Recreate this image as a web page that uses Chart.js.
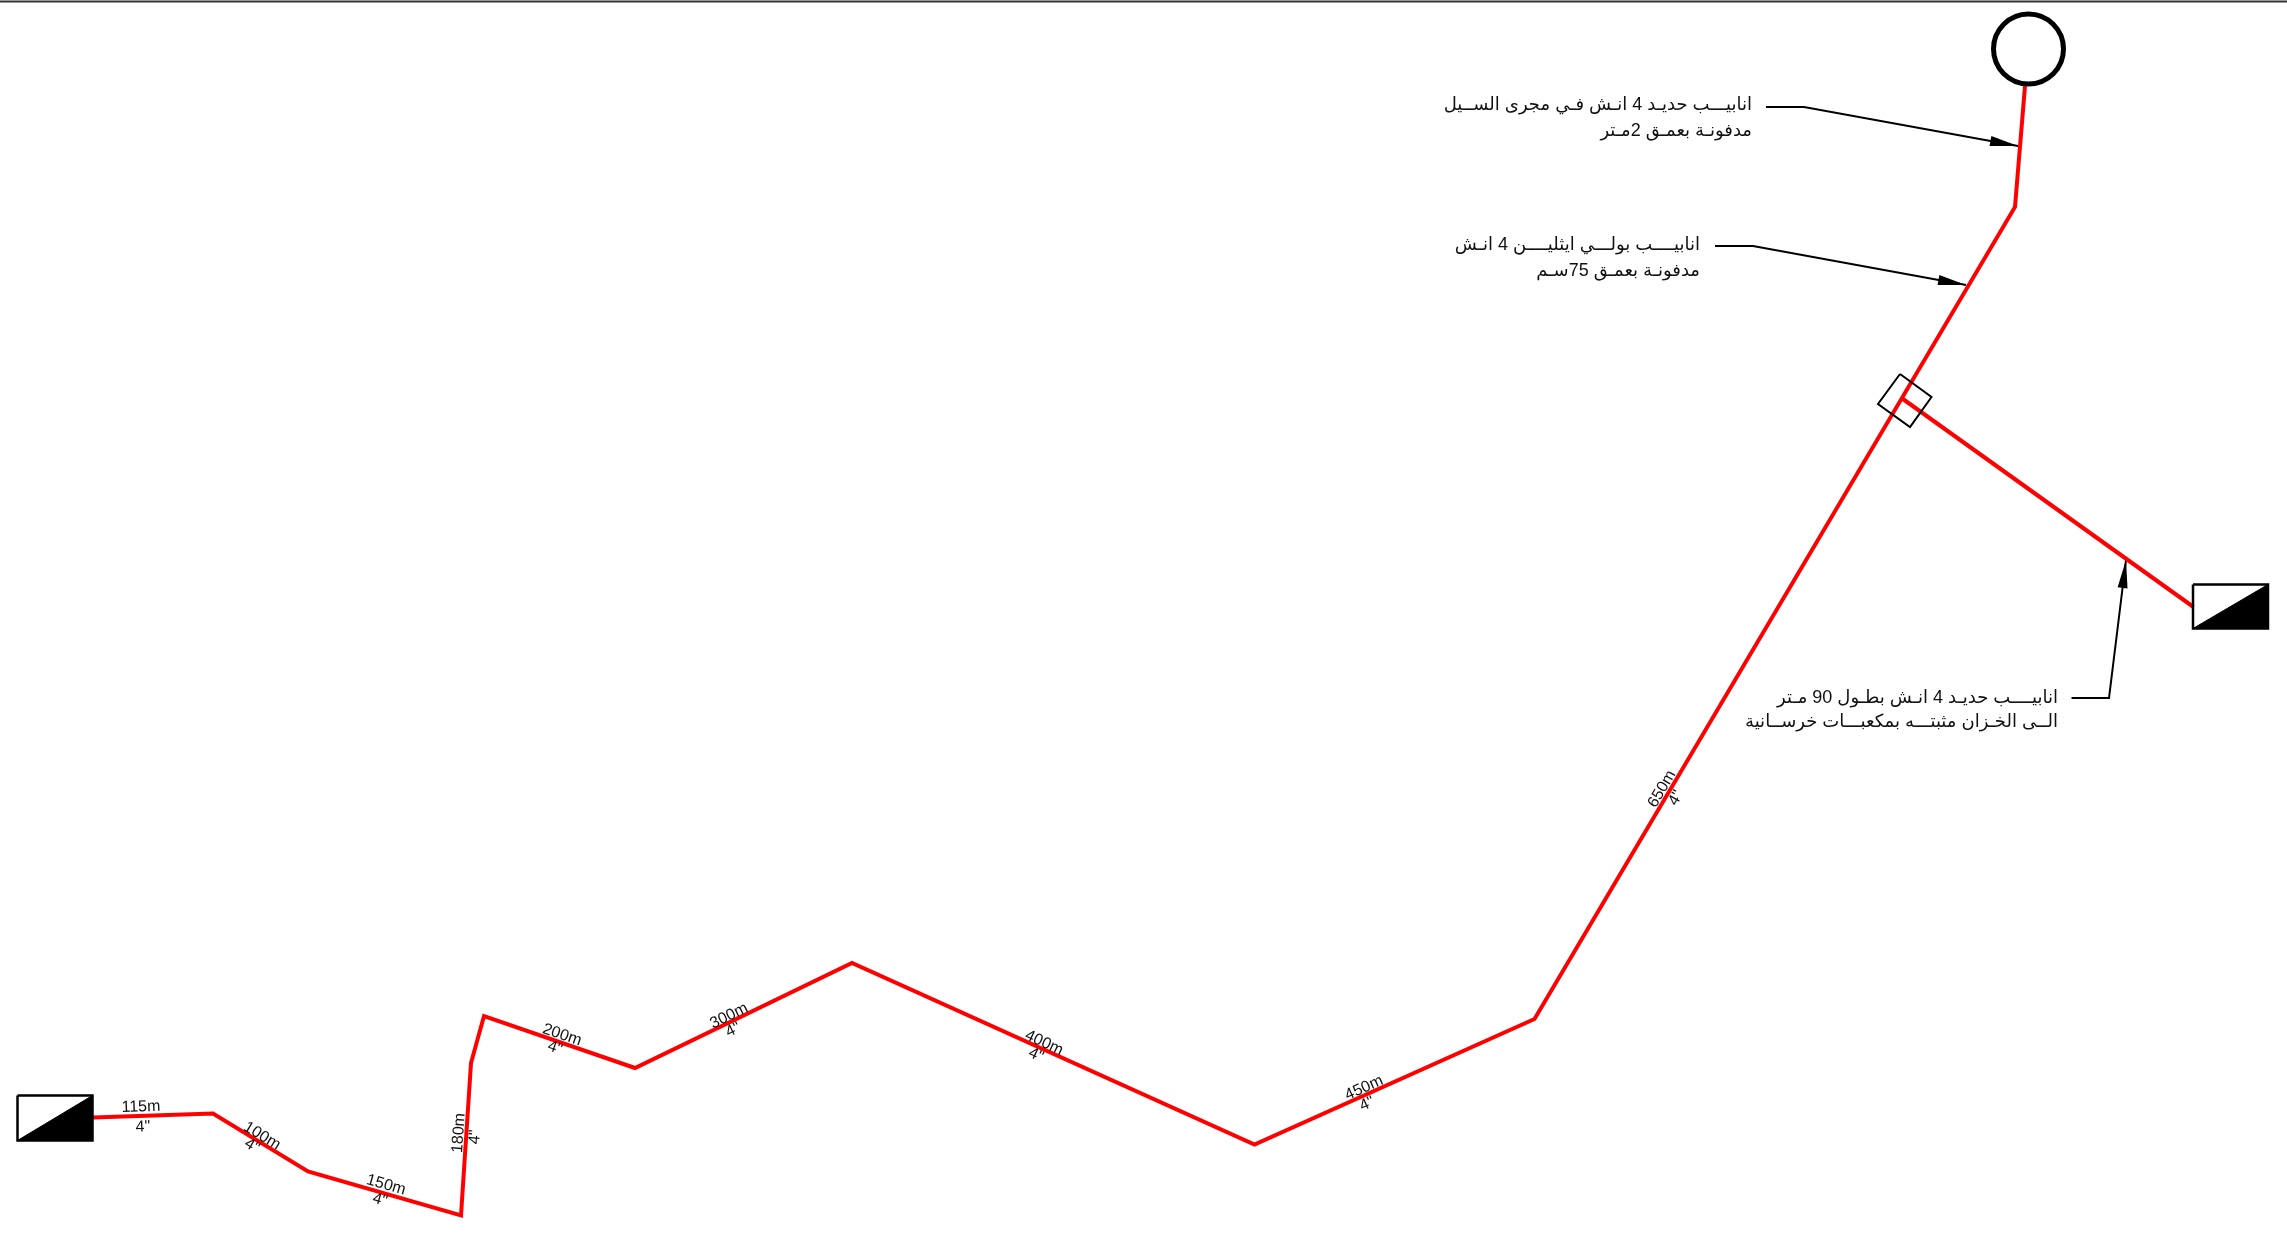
<!DOCTYPE html>
<html lang="ar">
<head>
    <meta charset="UTF-8">
    <title>Pipe route</title>
    <script src="https://cdnjs.cloudflare.com/ajax/libs/Chart.js/4.4.0/chart.umd.js"></script>
    <style>
        html, body { margin: 0; padding: 0; background: #ffffff; overflow: hidden; }
        canvas { display: block; }
    </style>
</head>
<body>
    <canvas id="canvas" width="2287" height="1236"></canvas>
    <script>
        // route of the main pipe, left tank up to the round well
        const pipeX = [93, 213, 308, 461, 471, 484, 635, 852, 1254.5, 1534.5, 2015, 2025]
        const pipeY = [1117.5, 1113.5, 1171.5, 1215.5, 1063, 1016, 1068, 963, 1144.5, 1019, 207, 86]
        const branchX = [1901.5, 2193.5]
        const branchY = [398, 607]

        const tankLeftX = [17.5, 92.5, 92.5, 17.5, 17.5]
        const tankLeftY = [1095.5, 1095.5, 1140.5, 1140.5, 1095.5]
        const tankLeftBlackX = [17.5, 92.5, 92.5, 17.5]
        const tankLeftBlackY = [1140.5, 1095.5, 1140.5, 1140.5]
        const tankRightX = [2193, 2268, 2268, 2193, 2193]
        const tankRightY = [584.5, 584.5, 628.5, 628.5, 584.5]
        const tankRightBlackX = [2193, 2268, 2268, 2193]
        const tankRightBlackY = [628.5, 584.5, 628.5, 628.5]

        const valveX = [1900, 1931.5, 1910, 1878, 1900]
        const valveY = [374, 397, 427, 404, 374]
        const wellX = [2028.5]
        const wellY = [49]
        const topRuleX = [0, 2287]
        const topRuleY = [1.5, 1.5]

        const leaderAX = [1766, 1804, 2018]
        const leaderAY = [107, 107, 146]
        const leaderBX = [1715, 1753, 1966]
        const leaderBY = [246, 246, 285]
        const leaderCX = [2071.5, 2109, 2126]
        const leaderCY = [698, 698, 560]

        // length labels along the pipe
        const lengthText = ['115m', '100m', '150m', '180m', '200m', '300m', '400m', '450m', '650m']
        const lengthX = [141, 262, 386, 459, 562, 729, 1044, 1364, 1662]
        const lengthY = [1107, 1136, 1185, 1133, 1035, 1016, 1043, 1088, 789]
        const labelAngle = [-2, 31, 16, -86, 19, -26, 25, -24, -60]
        const sizeText = '4"'
        const sizeX = [143, 252, 380, 475, 555, 733, 1036, 1367, 1676]
        const sizeY = [1127, 1146, 1200, 1137, 1048, 1030, 1055, 1104, 798]

        // notes beside the leaders
        const noteText = [
            'انابيـــب حديـد 4 انـش فـي مجرى الســيل',
            'مدفونـة بعمـق 2مـتر',
            'انابيــــب بولـــي ايثليــــن 4 انـش',
            'مدفونـة بعمـق 75سـم',
            'انابيــــب حديـد 4 انـش بطـول 90 مـتر',
            'الــى الخـزان مثبتـــه بمكعبـــات خرســانية'
        ]
        const noteX = [1752, 1752, 1700, 1700, 2058, 2058]
        const noteY = [105, 131, 245, 271, 698, 722]

        const zip = (xs, ys) => xs.map((x, i) => ({ x: x, y: ys[i] }))

        const line = (xs, ys, color, width) => ({
            data: zip(xs, ys),
            showLine: true,
            borderColor: color,
            borderWidth: width,
            borderJoinStyle: 'miter',
            tension: 0,
            pointRadius: 0,
            fill: false
        })

        const solid = (xs, ys) => ({
            data: zip(xs, ys),
            showLine: true,
            borderColor: '#000000',
            borderWidth: 1,
            backgroundColor: '#000000',
            tension: 0,
            pointRadius: 0,
            fill: 'shape'
        })

        const annotate = {
            id: 'annotate',
            afterDatasetsDraw(chart) {
                const ctx = chart.ctx
                const sx = chart.scales.x
                const sy = chart.scales.y

                // arrow heads on the end of every leader
                ;[[leaderAX, leaderAY], [leaderBX, leaderBY], [leaderCX, leaderCY]].forEach(([xs, ys]) => {
                    const n = xs.length - 1
                    const tipX = sx.getPixelForValue(xs[n])
                    const tipY = sy.getPixelForValue(ys[n])
                    const a = Math.atan2(tipY - sy.getPixelForValue(ys[n - 1]), tipX - sx.getPixelForValue(xs[n - 1]))
                    ctx.save()
                    ctx.translate(tipX, tipY)
                    ctx.rotate(a)
                    ctx.beginPath()
                    ctx.moveTo(0, 0)
                    ctx.lineTo(-28, -5)
                    ctx.lineTo(-28, 5)
                    ctx.closePath()
                    ctx.fillStyle = '#000000'
                    ctx.fill()
                    ctx.restore()
                })

                const rotated = (text, x, y, angle) => {
                    ctx.save()
                    ctx.translate(sx.getPixelForValue(x), sy.getPixelForValue(y))
                    ctx.rotate(angle * Math.PI / 180)
                    ctx.font = '16px "Liberation Sans"'
                    ctx.fillStyle = '#111111'
                    ctx.textAlign = 'center'
                    ctx.textBaseline = 'middle'
                    ctx.fillText(text, 0, 0)
                    ctx.restore()
                }
                lengthText.forEach((t, i) => {
                    rotated(t, lengthX[i], lengthY[i], labelAngle[i])
                    rotated(sizeText, sizeX[i], sizeY[i], labelAngle[i])
                })

                ctx.save()
                ctx.font = '18px "Liberation Sans", "DejaVu Sans", sans-serif'
                ctx.fillStyle = '#111111'
                ctx.direction = 'rtl'
                ctx.textAlign = 'right'
                ctx.textBaseline = 'middle'
                noteText.forEach((t, i) => {
                    ctx.fillText(t, sx.getPixelForValue(noteX[i]), sy.getPixelForValue(noteY[i]))
                })
                ctx.restore()
            }
        }

        new Chart(document.getElementById('canvas').getContext('2d'), {
            type: 'scatter',
            data: {
                datasets: [
                    {
                        data: zip(wellX, wellY),
                        pointStyle: 'circle',
                        pointRadius: 35,
                        pointBorderWidth: 5,
                        pointBorderColor: '#000000',
                        pointBackgroundColor: 'rgba(0,0,0,0)'
                    },
                    line(valveX, valveY, '#000000', 2),
                    line(tankLeftX, tankLeftY, '#000000', 2.5),
                    line(tankRightX, tankRightY, '#000000', 2.5),
                    solid(tankLeftBlackX, tankLeftBlackY),
                    solid(tankRightBlackX, tankRightBlackY),
                    line(pipeX, pipeY, '#ff0000', 4),
                    line(branchX, branchY, '#ff0000', 4),
                    line(leaderAX, leaderAY, '#000000', 2),
                    line(leaderBX, leaderBY, '#000000', 2),
                    line(leaderCX, leaderCY, '#000000', 2),
                    line(topRuleX, topRuleY, '#333333', 2)
                ]
            },
            options: {
                responsive: false,
                animation: false,
                devicePixelRatio: 1,
                layout: { padding: 0, autoPadding: false },
                clip: false,
                plugins: {
                    legend: { display: false },
                    title: { display: false },
                    tooltip: { enabled: false }
                },
                scales: {
                    x: { type: 'linear', min: 0, max: 2287, display: false },
                    y: { type: 'linear', min: 0, max: 1236, reverse: true, display: false }
                }
            },
            plugins: [annotate]
        })
    </script>
</body>
</html>
